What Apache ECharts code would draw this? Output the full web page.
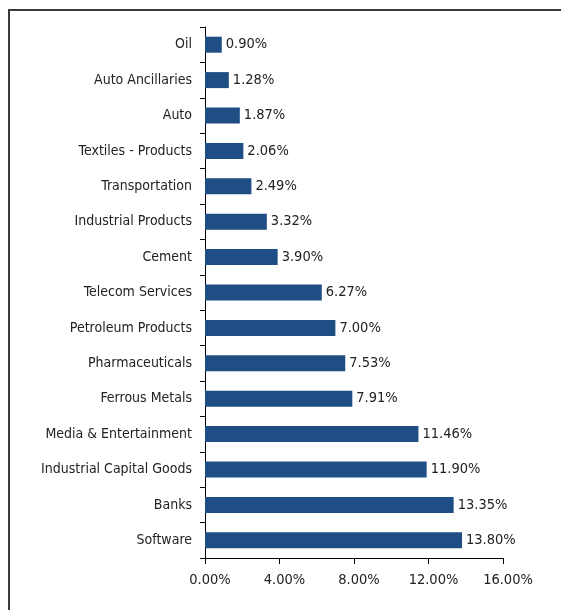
<!DOCTYPE html>
<html><head><meta charset="utf-8">
<script src="https://cdn.jsdelivr.net/npm/echarts@6/dist/echarts.min.js"></script>
<style>html,body{margin:0;padding:0;background:#fff}#c{width:561px;height:610px}</style>
</head><body><div id="c"></div>
<script>
const categories = ["Oil","Auto Ancillaries","Auto","Textiles - Products","Transportation","Industrial Products","Cement","Telecom Services","Petroleum Products","Pharmaceuticals","Ferrous Metals","Media & Entertainment","Industrial Capital Goods","Banks","Software"];
const values = [0.90,1.28,1.87,2.06,2.49,3.32,3.90,6.27,7.00,7.53,7.91,11.46,11.90,13.35,13.80];
const xTicks = [0,4,8,12,16];

const chart = echarts.init(document.getElementById('c'));
const font = "'DejaVu Sans Condensed', Roboto, sans-serif";
chart.setOption({
  animation:false,
  grid:{left:205,right:58,top:27,bottom:52,containLabel:false,outerBoundsMode:'none'},
  graphic:[
    {type:'line',shape:{x1:8,y1:10,x2:561,y2:10},style:{stroke:'#3a3a3a',lineWidth:2}},
    {type:'line',shape:{x1:9,y1:9,x2:9,y2:610},style:{stroke:'#3a3a3a',lineWidth:2}}
  ],
  xAxis:{type:'value',min:xTicks[0],max:xTicks[xTicks.length-1],interval:4,
    axisLine:{show:true,lineStyle:{color:'#000',width:1}},
    axisTick:{show:true,length:6,lineStyle:{color:'#000'}},
    splitLine:{show:false},
    axisLabel:{formatter:v=>v.toFixed(2)+'%',color:'#222',fontFamily:font,fontSize:14.5,margin:15,padding:[0,0,0,10]}},
  yAxis:{type:'category',data:categories,inverse:true,
    axisLine:{show:true,lineStyle:{color:'#000',width:1}},
    axisTick:{show:true,length:5,alignWithLabel:false,lineStyle:{color:'#000'}},
    axisLabel:{color:'#222',fontFamily:font,fontSize:14,margin:13}},
  series:[{type:'bar',data:values,barWidth:16,itemStyle:{color:'#1f4e85'},
    label:{show:true,position:'right',distance:4,formatter:p=>p.value.toFixed(2)+'%',color:'#222',fontFamily:font,fontSize:14.5}}]
});
</script></body></html>
